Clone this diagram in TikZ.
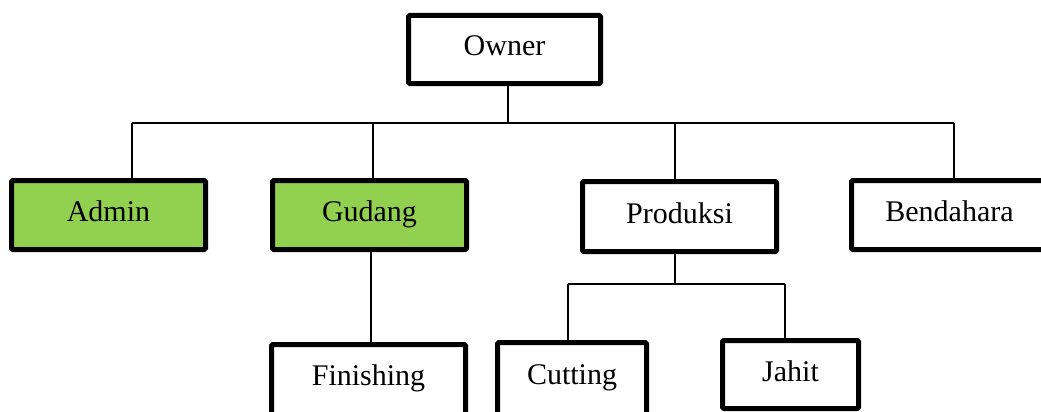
\documentclass[tikz,border=0pt]{standalone}
\usepackage{fontspec}
\setmainfont{Liberation Serif}
\definecolor{boxgreen}{HTML}{92D050}
\tikzset{
  orgbox/.style={draw=black, line width=5pt, rounded corners=1.5pt, fill=white,
    inner sep=0pt, text height=20pt, text depth=7pt,
    font=\fontsize{30}{36}\selectfont},
  greenbox/.style={orgbox, fill=boxgreen},
  conn/.style={draw=black, line width=1.5pt}
}
\begin{document}
\begin{tikzpicture}[x=1pt, y=-1pt]
\useasboundingbox (0,0) rectangle (1041,412);
\node[orgbox, minimum width=192pt, minimum height=68pt] (owner) at (504.5,49.5) {Owner};
\node[greenbox, minimum width=194pt, minimum height=69pt] (admin) at (108.5,215) {Admin};
\node[greenbox, minimum width=194pt, minimum height=69pt] (gudang) at (369.5,215) {Gudang};
\node[orgbox, minimum width=194pt, minimum height=70pt] (produksi) at (679.5,216.5) {Produksi};
\node[orgbox, minimum width=196pt, minimum height=69pt] (bendahara) at (949.5,215) {Bendahara};
\node[orgbox, minimum width=194pt, minimum height=73.5pt, text depth=12.5pt] (finishing) at (368.5,381.25) {Finishing};
\node[orgbox, minimum width=149pt, minimum height=75.5pt, text depth=12.5pt] (cutting) at (572,380.25) {Cutting};
\node[orgbox, minimum width=136pt, minimum height=68pt] (jahit) at (790.5,374.5) {Jahit};
% junction coordinates
\coordinate (bus) at (508,123);
\coordinate (ta) at (132,123);
\coordinate (tg) at (373,123);
\coordinate (tp) at (675,123);
\coordinate (tb) at (954,123);
\coordinate (gd) at (371,300);
\coordinate (pb) at (675,284);
\coordinate (pc) at (568,284);
\coordinate (pj) at (785,284);
\draw[conn] (owner.south -| bus) -- (bus);
\draw[conn] (ta) -- (tb);
\draw[conn] (ta) -- (ta |- admin.north);
\draw[conn] (tg) -- (tg |- gudang.north);
\draw[conn] (tp) -- (tp |- produksi.north);
\draw[conn] (tb) -- (tb |- bendahara.north);
\draw[conn] (gudang.south -| gd) -- (gd |- finishing.north);
\draw[conn] (produksi.south -| pb) -- (pb);
\draw[conn] (pc) -- (pj);
\draw[conn] (pc) -- (pc |- cutting.north);
\draw[conn] (pj) -- (pj |- jahit.north);
\end{tikzpicture}
\end{document}
